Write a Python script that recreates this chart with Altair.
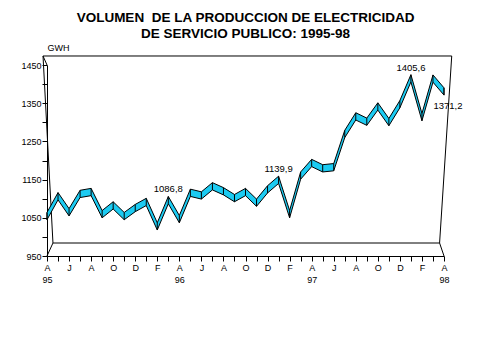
import altair as alt
import pandas as pd

# ---- data (monthly, Apr 1995 .. Apr 1998) ----
month_index = list(range(37))
gwh = [1045, 1097, 1055, 1103, 1108, 1050, 1073, 1045, 1066, 1082,
       1018, 1086.8, 1037, 1106, 1099, 1123, 1110, 1092, 1108, 1080,
       1115, 1139.9, 1050, 1151, 1184, 1170, 1173, 1260, 1306, 1292,
       1332, 1291, 1338, 1405.6, 1304, 1405, 1371.2]

month_letters = ["A", "M", "J", "J", "A", "S", "O", "N", "D", "E", "F", "M"]
year_at = {0: "95", 12: "96", 24: "97", 36: "98"}

label_idx = [11, 21, 33]
label_txt = ["1086,8", "1139,9", "1405,6"]
end_idx = [36]
end_txt = ["1371,2"]

y_ticks = list(range(950, 1451, 50))

# 3D back-wall frame (data units)
frame_x = [-0.36, -0.36, 0.54, 36.7, 0.54, 35.6, 0.0]
frame_x2 = [36.7, 0.54, 35.6, 35.6, 0.0, 36.0, -0.36]
frame_y = [1473.6, 1473.6, 984, 1473.6, 984, 984, 1450]
frame_y2 = [1473.6, 984, 984, 984, 950, 950, 1473.6]

DEPTH = 19  # ribbon depth in GWh units (3D effect)
FONT = "Liberation Sans"

df = pd.DataFrame({"i": month_index, "v": gwh})
df["top"] = df["v"] + DEPTH
lab = pd.DataFrame({"i": label_idx, "t": label_txt})
lab["y"] = [gwh[k] + DEPTH for k in label_idx]
endlab = pd.DataFrame({"i": end_idx, "t": end_txt, "y": [gwh[k] for k in end_idx]})
frame = pd.DataFrame({"x": frame_x, "x2": frame_x2, "y": frame_y, "y2": frame_y2})

# x-axis labels
parts = []
for k in month_index:
    letter = month_letters[k % 12] if k % 2 == 0 else ""
    if k in year_at:
        parts.append("['%s','%s']" % (letter, year_at[k]))
    else:
        parts.append("'%s'" % letter)
x_label_expr = "[" + ",".join(parts) + "][datum.value]"

xs = alt.Scale(domain=[0, 36], nice=False, zero=False)
ys = alt.Scale(domain=[950, 1450], nice=False, zero=False)

x_axis = alt.Axis(values=month_index, labelExpr=x_label_expr, title=None,
                  tickSize=5, labelPadding=2, labelFontSize=9, labelFont=FONT,
                  labelLineHeight=12, labelOverlap=False, labelFlush=False,
                  grid=False, domainColor="black", tickColor="black",
                  labelColor="black")
y_axis = alt.Axis(values=y_ticks, format="d",
                  labelExpr="datum.value % 100 == 50 ? datum.label : ''",
                  title="GWH", titleAngle=0, titleX=0, titleY=-13,
                  titleAlign="left", titleFontSize=9, titleFontWeight="normal",
                  titleFont=FONT, titleColor="black",
                  tickSize=5, labelPadding=1, labelFontSize=9, labelFont=FONT,
                  grid=False, domainColor="black", tickColor="black",
                  labelColor="black")


def X(f):
    return alt.X(f, scale=xs, axis=x_axis)


def Y(f):
    return alt.Y(f, scale=ys, axis=y_axis)


frame_layer = alt.Chart(frame).mark_rule(color="black", strokeWidth=1).encode(
    x=X("x:Q"), x2="x2:Q", y=Y("y:Q"), y2="y2:Q")

ribbon = alt.Chart(df).mark_area(color="#1CCBF2", stroke="black",
                                 strokeWidth=1, opacity=1).encode(
    x=X("i:Q"), y=Y("top:Q"), y2="v:Q")

dividers = alt.Chart(df).mark_rule(color="black", strokeWidth=1).encode(
    x=X("i:Q"), y=Y("top:Q"), y2="v:Q")

labels = alt.Chart(lab).mark_text(baseline="bottom", dy=-2, fontSize=9.5,
                                  font=FONT, color="black").encode(
    x=X("i:Q"), y=Y("y:Q"), text="t:N")

end_labels = alt.Chart(endlab).mark_text(baseline="top", dy=6, dx=4,
                                         fontSize=9.5, font=FONT,
                                         color="black").encode(
    x=X("i:Q"), y=Y("y:Q"), text="t:N")

chart = alt.layer(frame_layer, ribbon, dividers, labels, end_labels).properties(
    width=397, height=191,
    autosize=alt.AutoSizeParams(type="none"),
    padding={"left": 39, "top": 57, "right": 20, "bottom": 60},
    background="white",
    title=alt.TitleParams(
        ["VOLUMEN\u00a0 DE LA PRODUCCION DE ELECTRICIDAD",
         "DE SERVICIO PUBLICO: 1995-98"],
        font=FONT, fontSize=13.5, fontWeight="bold", color="black",
        anchor="middle", frame="group", offset=3, lineHeight=16),
).configure_view(strokeWidth=0)

chart.save("out.html", embed_options={"renderer": "svg", "actions": False})
